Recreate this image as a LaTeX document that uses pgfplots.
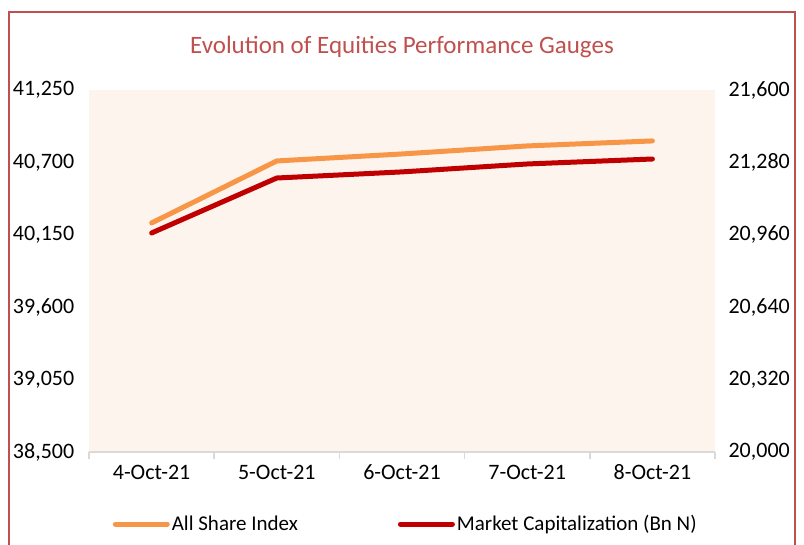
\documentclass[border=0pt]{standalone}
\usepackage{pgfplots}
\pgfplotsset{compat=1.18}
\usepackage{fontspec}
\setmainfont{Carlito}
\definecolor{asi}{HTML}{F79646}
\definecolor{mcap}{HTML}{C00000}
\definecolor{frame}{HTML}{C0504D}
\definecolor{bgfill}{HTML}{FDF4EE}
\definecolor{axgray}{HTML}{D9D9D9}
\begin{document}
\begin{tikzpicture}[x=1pt,y=1pt]
\useasboundingbox (0,0) rectangle (804,545);
\draw[frame, line width=2.2pt] (8.7,-10) -- (8.7,533) -- (795,533) -- (795,-10);
\node[text=frame, font=\fontsize{25}{30}\selectfont] at (402,498) {Evolution of Equities Performance Gauges};
\begin{axis}[
  at={(89pt,93pt)}, anchor=south west,
  scale only axis, width=626pt, height=362pt,
  xmin=-0.5, xmax=4.5, ymin=38500, ymax=41250,
  xtick={0,1,2,3,4},
  xticklabels={4-Oct-21,5-Oct-21,6-Oct-21,7-Oct-21,8-Oct-21},
  minor xtick={-0.5,0.5,1.5,2.5,3.5,4.5},
  major x tick style={draw=none},
  minor x tick style={draw=axgray, line width=1.5pt},
  minor tick length=7pt,
  tick align=outside,
  ytick={38500,39050,39600,40150,40700,41250},
  scaled y ticks=false,
  y tick style={draw=none},
  axis x line*=bottom, axis y line*=left,
  x axis line style={draw=axgray, line width=1.5pt},
  y axis line style={draw=none},
  axis background/.style={fill=bgfill},
  /pgf/number format/assume math mode=true,
  /pgf/number format/fixed,
  /pgf/number format/1000 sep={,},
  tick label style={font=\fontsize{22}{26}\selectfont},
  yticklabel style={xshift=-7pt},
  xticklabel style={yshift=-5pt},
]
\addplot[asi, line width=5pt, line cap=round, line join=round] coordinates {
(0,40240) (1,40711) (2,40764) (3,40825) (4,40863)};
\end{axis}
\begin{axis}[
  at={(89pt,93pt)}, anchor=south west,
  scale only axis, width=626pt, height=362pt,
  xmin=-0.5, xmax=4.5, ymin=20000, ymax=21600,
  hide x axis,
  axis y line*=right,
  y axis line style={draw=none},
  y tick style={draw=none},
  ytick={20000,20320,20640,20960,21280,21600},
  scaled y ticks=false,
  /pgf/number format/assume math mode=true,
  /pgf/number format/fixed,
  /pgf/number format/1000 sep={,},
  tick label style={font=\fontsize{22}{26}\selectfont},
  yticklabel style={xshift=10pt},
  legend columns=2,
  legend style={at={(0.506,-0.199)}, anchor=center, draw=none, fill=none,
    font=\fontsize{21}{25}\selectfont,
    /tikz/every even column/.append style={column sep=98pt}},
  legend image code/.code={\draw[#1, line width=5pt, line cap=round] (0pt,0pt) -- (52pt,0pt);},
]
\addlegendimage{asi}
\addlegendentry{All Share Index}
\addplot[mcap, line width=5pt, line cap=round, line join=round] coordinates {
(0,20968) (1,21211) (2,21238) (3,21273) (4,21295)};
\addlegendentry{Market Capitalization (Bn N)}
\end{axis}
\end{tikzpicture}
\end{document}
